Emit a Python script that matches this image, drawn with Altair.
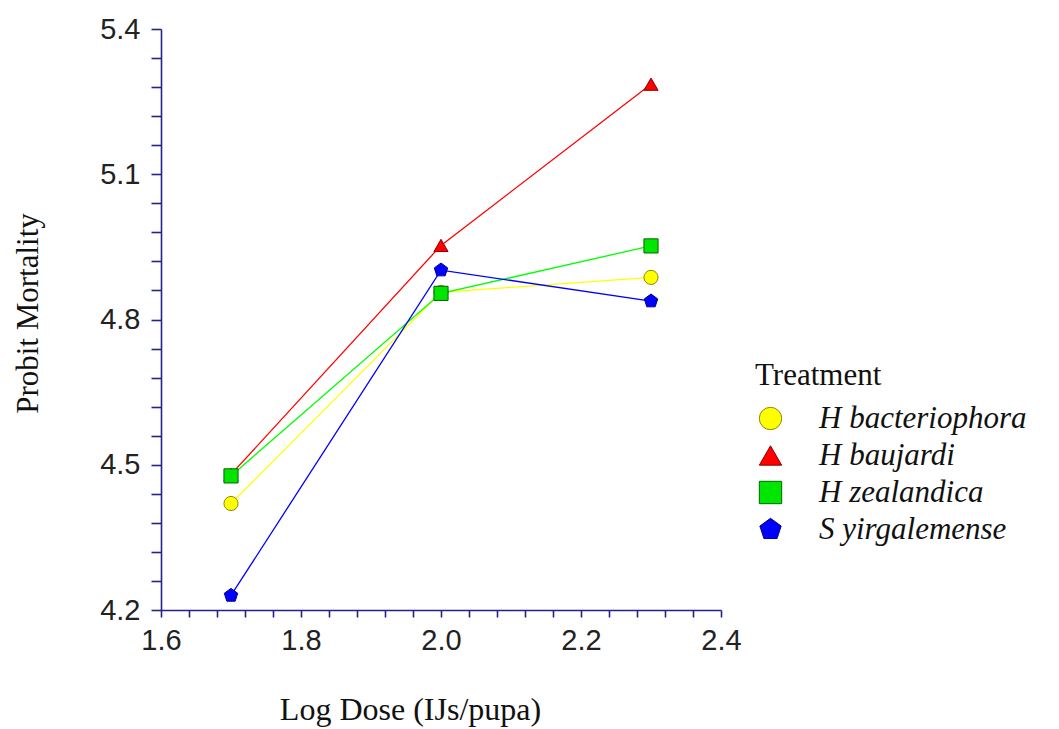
import altair as alt
import pandas as pd

# Probit mortality against log dose for four nematode treatments
log_dose = [1.7, 2.0, 2.3]
treatments = ["H bacteriophora", "H baujardi", "H zealandica", "S yirgalemense"]
h_bacteriophora = [4.420, 4.856, 4.887]
h_baujardi = [4.480, 4.953, 5.286]
h_zealandica = [4.477, 4.854, 4.952]
s_yirgalemense = [4.230, 4.902, 4.838]

fill_colors = ["#ffff00", "#ff0000", "#00e600", "#0000ff"]
line_colors = ["#ffff00", "#ff0000", "#00ff00", "#0000ff"]
edge_colors = ["#8a8a00", "#8b0000", "#006400", "#00008b"]
pentagon = "M0,-1L0.951,-0.309L0.588,0.809L-0.588,0.809L-0.951,-0.309Z"
shapes = ["circle", "triangle-up", "square", pentagon]

y_ticks = [round(4.2 + 0.06 * i, 2) for i in range(21)]
x_ticks = [round(1.6 + 0.04 * i, 2) for i in range(21)]

series = [h_bacteriophora, h_baujardi, h_zealandica, s_yirgalemense]
rows = []
for name, values in zip(treatments, series):
    for d, v in zip(log_dose, values):
        rows.append({"dose": d, "probit": v, "Treatment": name, "order": treatments.index(name)})
df = pd.DataFrame(rows)

axis_color = "#22228a"

x_enc = alt.X(
    "dose:Q",
    scale=alt.Scale(domain=[1.6, 2.4], nice=False, zero=False),
    axis=alt.Axis(
        title="Log Dose (IJs/pupa)",
        values=x_ticks,
        labelExpr="(round(datum.value*100) % 20 == 0) ? format(datum.value, '.1f') : ''",
        labelFont="Liberation Sans",
        labelFontSize=29,
        labelColor="#222222",
        labelPadding=9,
        labelOverlap=False,
        labelFlush=False,
        tickSize=7,
        titleFont="Liberation Serif",
        titleFontSize=32,
        titleFontWeight="normal",
        titleColor="#111111",
        titleX=249,
        titleY=109,
        titleBaseline="alphabetic",
        titleAlign="center",
        grid=False,
    ),
)
y_enc = alt.Y(
    "probit:Q",
    scale=alt.Scale(domain=[4.2, 5.4], nice=False, zero=False),
    axis=alt.Axis(
        title="Probit Mortality",
        values=y_ticks,
        labelExpr="(round(datum.value*100) % 30 == 0) ? format(datum.value, '.1f') : ''",
        labelFont="Liberation Sans",
        labelFontSize=29,
        labelColor="#222222",
        labelPadding=11,
        labelOverlap=False,
        labelFlush=False,
        tickSize=10,
        titleFont="Liberation Serif",
        titleFontSize=31,
        titleFontWeight="normal",
        titleColor="#111111",
        titleX=-124,
        titleY=284,
        titleBaseline="alphabetic",
        titleAlign="center",
        titleAngle=-90,
        grid=False,
    ),
)

legend = alt.Legend(
    title="Treatment",
    orient="none",
    legendX=594,
    legendY=332,
    padding=0,
    titleFont="Liberation Serif",
    titleFontSize=31,
    titleFontWeight="normal",
    titleColor="#111111",
    titlePadding=11,
    labelFont="Liberation Serif",
    labelFontSize=31,
    labelFontStyle="italic",
    labelColor="#111111",
    labelOffset=33,
    labelLimit=400,
    symbolSize=500,
    symbolStrokeWidth=1,
    rowPadding=5,
)

base = alt.Chart(df)

lines = base.mark_line(strokeWidth=1.3).encode(
    x=x_enc,
    y=y_enc,
    detail="Treatment:N",
    stroke=alt.Stroke("Treatment:N", scale=alt.Scale(domain=treatments, range=line_colors), legend=None),
    order="order:Q",
)

points = base.mark_point(filled=True, size=200, strokeWidth=1, opacity=1).encode(
    x=x_enc,
    y=y_enc,
    shape=alt.Shape("Treatment:N", scale=alt.Scale(domain=treatments, range=shapes), legend=legend),
    fill=alt.Fill("Treatment:N", scale=alt.Scale(domain=treatments, range=fill_colors), legend=legend),
    stroke=alt.Stroke("Treatment:N", scale=alt.Scale(domain=treatments, range=edge_colors), legend=legend),
    order="order:Q",
)

chart = (
    alt.layer(lines, points)
    .resolve_scale(stroke="independent", fill="independent", shape="independent")
    .resolve_legend(stroke="independent", fill="independent", shape="independent")
    .properties(
        width=560,
        height=581,
        autosize=alt.AutoSizeParams(type="none"),
        padding={"left": 161, "top": 29, "right": 338, "bottom": 119},
        background="white",
    )
    .configure_view(stroke=None)
    .configure_axis(
        domainColor=axis_color,
        tickColor=axis_color,
        domainWidth=1.6,
        tickWidth=1.6,
    )
)

chart.save("out.html", embed_options={"renderer": "svg", "actions": False})
